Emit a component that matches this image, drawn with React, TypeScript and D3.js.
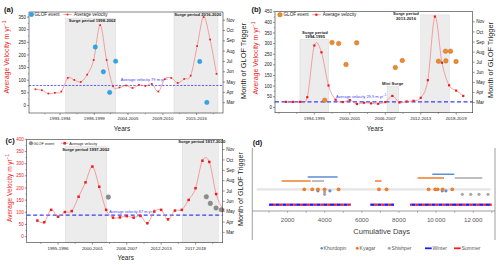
import React from 'react';
import * as d3 from 'd3';

const FONT = "'Liberation Sans', Arial, Helvetica, sans-serif";

// ---------- shared ----------
const monthLabels = ['Mar', 'Apr', 'May', 'Jun', 'Jul', 'Aug', 'Sep', 'Oct', 'Nov'];
const monthValues = [3, 4, 5, 6, 7, 8, 9, 10, 11];

// ---------- (a) ----------
const velA = [64, 60, 47, 50, 55, 109, 101, 93, 122, 180, 318, 180, 76, 71, 79, 69, 81, 77, 85, 55, 104, 109, 89, 105, 118, 235, 350, 261, 125];
const glofAx = [10.25, 11.5, 12.47, 13.4, 26.4, 27.5];
const glofAm = [8.4, 6.0, 4.0, 7.03, 7.0, 3.03];
const yearLabelsA = ['1993-1994', '1998-1999', '2004-2005', '2009-2010', '2015-2016'];
const yearTicksA = [4.8, 10.1, 15.3, 20.7, 25.9];
const yearMinorA = [2.45, 7.45, 12.6, 18, 23.3, 28.5];
const surgesA = [[5.67, 13.41, 345], [22.42, 29.22, 370]];
const avgA = 79;

// ---------- (b) ----------
const velB = [26, 26, 26, 48, 291, 259, 103, 36, 25, 34, 16, 22, 19, 17, 25, 54, 23, 28, 31, 45, 128, 427, 210, 104, 79, 54];
const glofBx = [6.46, 7.49, 8.43, 9.46, 10.97, 16.42, 17.4, 22.5, 23.5, 23.55, 24.2, 24.98];
const glofBm = [3.23, 8.95, 8.85, 6.77, 8.92, 6.47, 7.17, 7.1, 8.09, 7.13, 8.09, 7.07];
const yearLabelsB = ['1994-1995', '2000-2001', '2006-2007', '2012-2013', '2018-2019'];
const yearTicksB = [5, 10, 15, 20, 25];
const yearMinorB = [0, 2.5, 7.5, 12.5, 17.5, 22.5];
const surgesB = [[2.97, 7.02, 320], [15.25, 16.9, 100], [20.0, 24.03, 435]];
const avgB = 26;

// ---------- (c) ----------
const velC = [66, 59, 110, 82, 101, 105, 164, 223, 288, 205, 110, 78, 79, 84, 78, 85, 55, 103, 110, 71, 107, 110, 151, 199, 312, 307, 175, 110];
const glofCx = [11.32, 25.57, 26.15, 26.98, 27.75];
const glofCm = [6.41, 6.44, 5.8, 5.35, 5.19];
const yearLabelsC = ['1995-1996', '2000-2001', '2006-2007', '2012-2013', '2017-2018'];
const yearTicksC = [4, 9, 14, 19, 24];
const yearMinorC = [1.5, 6.5, 11.5, 16.5, 21.5, 26.5];
const surgesC = [[5.07, 11.09, 370], [22.08, 27.32, 400]];
const avgC = 88;

// ---------- (d) ----------
const dayTicks = [2000, 4000, 6000, 8000, 10000, 12000];
const kyagarDays = [2898, 3329, 3634, 3993, 4747, 6919, 7332, 9594, 9953, 10079, 10348, 10869];
const khurdopinDays = [3634, 4280, 10330, 10528];
const shishperDays = [3993, 3993, 11410, 11862, 12309, 12794];
const shishperRows = [3.0, 2.65, 2.65, 2.65, 2.65, 2.65];
const khurdopinSurges = [[3081, 4697, 5.4], [9793, 10978, 5.83]];
const kyagarSurges = [[1680, 3243, 4.76], [6706, 7066, 4.76], [9006, 10423, 5.24]];
const shishperSurges = [[3313, 3959, 4.76], [11000, 12487, 5.24]];
const observedSpans = [[1000, 5413], [6437, 7730], [8591, 12993]];

const RED_LINE = '#f37b7b';
const RED = '#ee1c1c';
const AVG_BLUE = '#3b3bf5';

function Sup({ base, sup, fs }: { base: string; sup: string; fs: number }) {
  return (
    <>
      <tspan>{base}</tspan>
      <tspan dy={-fs * 0.38} fontSize={fs * 0.7}>{sup}</tspan>
    </>
  );
}

function VelocityPanel(p: any) {
  const x = d3.scaleLinear().domain(p.xDomain).range([p.left, p.right]);
  const y = d3.scaleLinear().domain(p.yDomain).range([p.bottom, p.top]);
  const m = d3.scaleLinear().domain(p.mDomain).range([p.bottom, p.top]);
  const pts: [number, number][] = p.vel.map((v: number, i: number) => [x(i + 1), y(v)]);
  const path = d3.line().curve(d3.curveCardinal.tension(0))(pts) || '';
  const clipId = 'clip-' + p.id;
  const yMinor = p.yTicks.slice(0, -1).map((t: number) => t + 25);
  const lg = p.legend;
  return (
    <g>
      <defs>
        <clipPath id={clipId}>
          <rect x={p.left} y={p.top} width={p.right - p.left} height={p.bottom - p.top} />
        </clipPath>
      </defs>
      {p.surges.map((s: number[], i: number) => (
        <rect key={i} x={x(s[0])} y={y(s[2])} width={x(s[1]) - x(s[0])} height={p.bottom - y(s[2])}
          fill="#ececec" stroke="#d2d2d2" strokeWidth={0.4} />
      ))}
      {p.surgeLabels.map((s: any, i: number) => (
        <text key={i} x={s.x} y={s.y} fontSize={4.2} fontWeight={600} fill="#222" textAnchor="middle">
          {s.lines.map((l: string, j: number) => (
            <tspan key={j} x={s.x} dy={j === 0 ? 0 : 4.4}>{l}</tspan>
          ))}
        </text>
      ))}
      <line x1={p.left} x2={p.right} y1={y(p.avg)} y2={y(p.avg)} stroke={AVG_BLUE}
        strokeWidth={p.avgW} strokeDasharray={p.avgDash} />
      <text x={p.avgLabel.x} y={p.avgLabel.y} fontSize={p.avgLabel.fs} fill={AVG_BLUE}>
        <Sup base={p.avgLabel.text} sup="−1" fs={p.avgLabel.fs} />
      </text>
      <g clipPath={`url(#${clipId})`}>
        <path d={path} fill="none" stroke={RED_LINE} strokeWidth={0.7} />
      </g>
      {pts.map((d, i) => (
        <rect key={i} x={d[0] - p.sq / 2} y={d[1] - p.sq / 2} width={p.sq} height={p.sq} fill={RED} />
      ))}
      {p.glofX.map((gx: number, i: number) => (
        <circle key={i} cx={x(gx)} cy={m(p.glofM[i])} r={p.glofR} fill={p.glofFill}
          stroke={p.glofStroke} strokeWidth={0.4} />
      ))}
      {/* frame */}
      <rect x={p.left} y={p.top} width={p.right - p.left} height={p.bottom - p.top} fill="none" stroke="#333" strokeWidth={0.6} />
      {/* left axis */}
      {p.yTicks.map((t: number) => (
        <g key={t}>
          <line x1={p.left - 2} x2={p.left} y1={y(t)} y2={y(t)} stroke="#333" strokeWidth={0.5} />
          <text x={p.left - 3} y={y(t) + 1.6} fontSize={4.5} textAnchor="end" fill={p.yTickColor}>{t}</text>
        </g>
      ))}
      {yMinor.map((t: number) => (
        <line key={t} x1={p.left - 1.2} x2={p.left} y1={y(t)} y2={y(t)} stroke="#333" strokeWidth={0.4} />
      ))}
      {/* right month axis */}
      {monthValues.map((mv, i) => (
        <g key={mv}>
          <line x1={p.right} x2={p.right + 2} y1={m(mv)} y2={m(mv)} stroke="#333" strokeWidth={0.5} />
          <text x={p.right + 3.5} y={m(mv) + 1.6} fontSize={4.6} fill="#222">{monthLabels[i]}</text>
        </g>
      ))}
      {/* bottom axis */}
      {p.xTicks.map((t: number, i: number) => (
        <g key={t}>
          <line x1={x(t)} x2={x(t)} y1={p.bottom} y2={p.bottom + 2} stroke="#333" strokeWidth={0.5} />
          <text x={x(t)} y={p.bottom + 7} fontSize={4.4} textAnchor="middle" fill="#222">{p.xLabels[i]}</text>
        </g>
      ))}
      {p.xMinor.map((t: number) => (
        <line key={t} x1={x(t)} x2={x(t)} y1={p.bottom} y2={p.bottom + 1.3} stroke="#333" strokeWidth={0.4} />
      ))}
      {/* legend */}
      <circle cx={lg.cx} cy={lg.cy} r={lg.r} fill={p.glofFill} stroke={p.glofStroke} strokeWidth={0.4} />
      <text x={lg.t1} y={lg.cy + lg.fs * 0.36} fontSize={lg.fs} fill="#222">GLOF event</text>
      <line x1={lg.l0} x2={lg.l1} y1={lg.cy} y2={lg.cy} stroke={RED_LINE} strokeWidth={0.7} />
      <rect x={(lg.l0 + lg.l1) / 2 - p.sq / 2} y={lg.cy - p.sq / 2} width={p.sq} height={p.sq} fill={RED} />
      <text x={lg.t2} y={lg.cy + lg.fs * 0.36} fontSize={lg.fs} fill="#222">Average velocity</text>
      {/* titles */}
      <text transform={`translate(${p.titleL.x},${p.titleL.y}) rotate(-90)`} fontSize={p.titleL.fs}
        textAnchor="middle" fill={RED}>
        <Sup base="Average Velocity m yr" sup="−1" fs={p.titleL.fs} />
      </text>
      <text transform={`translate(${p.titleR.x},${p.titleR.y}) rotate(-90)`} fontSize={p.titleR.fs}
        textAnchor="middle" fill="#222">Month of GLOF Trigger</text>
      <text x={p.years.x} y={p.years.y} fontSize={6.5} textAnchor="middle" fill="#222">Years</text>
      <text x={p.panel.x} y={p.panel.y} fontSize={7.5} fontWeight="bold" fill="#111">{p.panel.t}</text>
    </g>
  );
}

const panelA = {
  id: 'a', left: 29, right: 223, top: 12, bottom: 113,
  xDomain: [0, 30], yDomain: [-30, 370], mDomain: [2, 11.8],
  vel: velA, glofX: glofAx, glofM: glofAm,
  glofFill: '#2ca6e8', glofStroke: '#1d8ccc', glofR: 2.2, sq: 1.7,
  yTicks: d3.range(0, 351, 50), yTickColor: '#222',
  xTicks: yearTicksA, xLabels: yearLabelsA, xMinor: yearMinorA,
  surges: surgesA,
  surgeLabels: [
    { lines: ['Surge period 1998-2002'], x: 92.2, y: 22.3 },
    { lines: ['Surge period 2016-2020'], x: 197.8, y: 15.5 },
  ],
  avg: avgA, avgW: 0.8, avgDash: '2.2,1.4',
  avgLabel: { text: 'Average velocity 79 m yr', x: 120.7, y: 81.4, fs: 4.0 },
  legend: { cx: 31.5, cy: 14.5, r: 2.2, t1: 34.5, l0: 63.3, l1: 71.7, t2: 74, fs: 4.6 },
  titleL: { x: 8.5, y: 57, fs: 7 }, titleR: { x: 245.5, y: 61, fs: 7.4 },
  years: { x: 122, y: 130.5 }, panel: { x: 4, y: 11.5, t: '(a)' },
};

const panelB = {
  id: 'b', left: 275, right: 472.7, top: 11.7, bottom: 112.7,
  xDomain: [-0.55, 27.33], yDomain: [-25, 450], mDomain: [2, 12],
  vel: velB, glofX: glofBx, glofM: glofBm,
  glofFill: '#f08a2c', glofStroke: '#b0601a', glofR: 2.3, sq: 2.2,
  yTicks: d3.range(0, 451, 50), yTickColor: '#222',
  xTicks: yearTicksB, xLabels: yearLabelsB, xMinor: yearMinorB,
  surges: surgesB,
  surgeLabels: [
    { lines: ['Surge period', '1994-1995'], x: 315, y: 33.6 },
    { lines: ['Mini Surge'], x: 392.7, y: 84.6 },
    { lines: ['Surge period', '2013-2016'], x: 406, y: 15.4 },
  ],
  avg: avgB, avgW: 1.3, avgDash: '4,2.5',
  avgLabel: { text: 'Average velocity 29.9 m yr', x: 336, y: 97.6, fs: 4.0 },
  legend: { cx: 280, cy: 14.7, r: 2.3, t1: 283.5, l0: 312, l1: 320.7, t2: 322.7, fs: 4.6 },
  titleL: { x: 257.5, y: 58, fs: 7 }, titleR: { x: 492.5, y: 60, fs: 7.4 },
  years: { x: 375, y: 130.5 }, panel: { x: 251.5, y: 11.5, t: '(b)' },
};

const panelC = {
  id: 'c', left: 26.7, right: 222.7, top: 139.3, bottom: 242.7,
  xDomain: [-0.55, 27.95], yDomain: [-25, 400], mDomain: [2, 12],
  vel: velC, glofX: glofCx, glofM: glofCm,
  glofFill: '#8c8c8c', glofStroke: '#777', glofR: 2.3, sq: 2.5,
  yTicks: d3.range(0, 401, 50), yTickColor: RED,
  xTicks: yearTicksC, xLabels: yearLabelsC, xMinor: yearMinorC,
  surges: surgesC,
  surgeLabels: [
    { lines: ['Surge period 1997-2002'], x: 85.8, y: 150.8 },
    { lines: ['Surge period 1917-2020'], x: 201.8, y: 143.2 },
  ],
  avg: avgC, avgW: 1.3, avgDash: '4,2.5',
  avgLabel: { text: 'Average velocity 87 m yr', x: 109.3, y: 213, fs: 3.9 },
  legend: { cx: 31, cy: 143.3, r: 1.8, t1: 33.5, l0: 61, l1: 68.3, t2: 69.3, fs: 3.8 },
  titleL: { x: 11.5, y: 188, fs: 6.5 }, titleR: { x: 242.5, y: 189, fs: 7.2 },
  years: { x: 125.7, y: 260 }, panel: { x: 5.5, y: 143, t: '(c)' },
};

function seasonPieces(a: number, b: number) {
  // summer = day-of-year 120..273 (May-Sep), winter the rest
  const out: { a: number; b: number; summer: boolean }[] = [];
  let d = a;
  while (d < b) {
    const doy = ((d % 365) + 365) % 365;
    const summer = doy >= 120 && doy < 273;
    let next = summer ? d + (273 - doy) : doy < 120 ? d + (120 - doy) : d + (365 - doy + 120);
    next = Math.min(next, b);
    out.push({ a: d, b: next, summer });
    d = next;
  }
  return out;
}

function SeasonPanel() {
  const x = d3.scaleLinear().domain([100, 13170]).range([252.3, 495]);
  const y = d3.scaleLinear().domain([0, 10]).range([211, 148]);
  const pieces = observedSpans.flatMap(s => seasonPieces(s[0], s[1]));
  const minor = d3.range(1000, 13001, 1000);
  const fmt = (v: number) => (v >= 10000 ? d3.format(',')(v).replace(',', '\u2009') : String(v));
  const C_KH = '#5b8fd6', C_KY = '#ef7d2e', C_SH = '#a8a8a8';
  return (
    <g>
      <text x={252.7} y={144.5} fontSize={7.5} fontWeight="bold" fill="#111">(d)</text>
      <line x1={252.3} x2={252.3} y1={148} y2={240} stroke="#777" strokeWidth={0.7} />
      <line x1={495} x2={495} y1={148} y2={240} stroke="#777" strokeWidth={0.7} />
      <line x1={252.3} x2={495} y1={211} y2={211} stroke="#777" strokeWidth={0.7} />
      {minor.map(t => (
        <line key={t} x1={x(t)} x2={x(t)} y1={211} y2={213} stroke="#777" strokeWidth={0.5} />
      ))}
      {dayTicks.map(t => (
        <text key={t} x={x(t)} y={222} fontSize={6.2} textAnchor="middle" fill="#595959">{fmt(t)}</text>
      ))}
      <text x={381.7} y={234} fontSize={7.5} textAnchor="middle" fill="#404040">Cumulative Days</text>
      {/* grey band */}
      <line x1={x(330)} x2={x(12934)} y1={y(3.44)} y2={y(3.44)} stroke="#e4e4e4" strokeWidth={2.2} />
      {/* surge bars */}
      {khurdopinSurges.map((s, i) => (
        <line key={'kh' + i} x1={x(s[0])} x2={x(s[1])} y1={y(s[2])} y2={y(s[2])} stroke={C_KH} strokeWidth={1.5} />
      ))}
      {kyagarSurges.map((s, i) => (
        <line key={'ky' + i} x1={x(s[0])} x2={x(s[1])} y1={y(s[2])} y2={y(s[2])} stroke={C_KY} strokeWidth={1.5} />
      ))}
      {shishperSurges.map((s, i) => (
        <line key={'sh' + i} x1={x(s[0])} x2={x(s[1])} y1={y(s[2])} y2={y(s[2])} stroke={C_SH} strokeWidth={1.5} />
      ))}
      {/* season line */}
      {pieces.map((p, i) => (
        <line key={i} x1={x(p.a)} x2={x(p.b)} y1={y(1)} y2={y(1)} stroke={p.summer ? '#ff1a1a' : '#1a1aff'} strokeWidth={2.3} />
      ))}
      {/* events */}
      {shishperDays.map((d, i) => (
        <circle key={'sd' + i} cx={x(d)} cy={y(shishperRows[i])} r={1.6} fill={C_SH} />
      ))}
      {khurdopinDays.map((d, i) => (
        <circle key={'kd' + i} cx={x(d)} cy={y(3.2)} r={1.6} fill={C_KH} />
      ))}
      {kyagarDays.map((d, i) => (
        <circle key={'yd' + i} cx={x(d)} cy={y(3.44)} r={1.9} fill={C_KY} />
      ))}
      {/* legend */}
      <circle cx={321.7} cy={248.3} r={1.2} fill={C_KH} />
      <text x={323.6} y={250.1} fontSize={5} fill="#595959">Khurdopin</text>
      <circle cx={357.3} cy={248.3} r={1.5} fill={C_KY} />
      <text x={359.6} y={250.1} fontSize={5} fill="#595959">Kyagar</text>
      <circle cx={389.3} cy={248.3} r={1.5} fill={C_SH} />
      <text x={391.6} y={250.1} fontSize={5} fill="#595959">Shishper</text>
      <line x1={425} x2={431.7} y1={248.3} y2={248.3} stroke="#1a1aff" strokeWidth={1.8} />
      <text x={432.5} y={250.1} fontSize={5} fill="#595959">Winter</text>
      <line x1={454} x2={460.7} y1={248.3} y2={248.3} stroke="#ff1a1a" strokeWidth={1.8} />
      <text x={461.5} y={250.1} fontSize={5} fill="#595959">Summer</text>
    </g>
  );
}

export default function App() {
  return (
    <svg width={500} height={265} viewBox="0 0 500 265" fontFamily={FONT}
      style={{ position: 'absolute', left: 0, top: 0, background: '#fff' }}>
      <VelocityPanel {...panelA} />
      <VelocityPanel {...panelB} />
      <VelocityPanel {...panelC} />
      <SeasonPanel />
    </svg>
  );
}
